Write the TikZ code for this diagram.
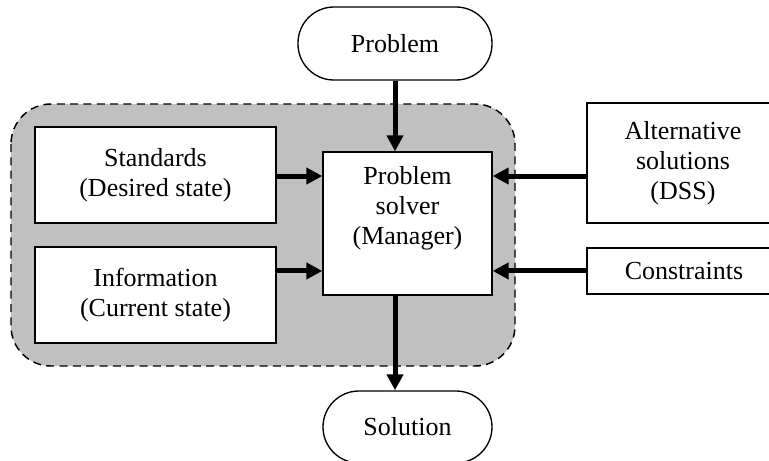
\documentclass[tikz,border=0pt]{standalone}
\usepackage{fontspec}
\setmainfont{Liberation Serif}
\usepackage{tikz}
\usetikzlibrary{arrows.meta}
\definecolor{shade}{RGB}{192,192,192}

\begin{document}
\begin{tikzpicture}[x=0.75pt,y=-0.75pt,
    every node/.style={font=\fontsize{19.5}{22.5}\selectfont},
    box/.style={draw,line width=1pt,fill=white,align=center,inner sep=0pt},
    term/.style={box,rounded corners=27pt},
    flow/.style={line width=3.75pt,-{Triangle[length=12pt,width=12pt]}}]
    \useasboundingbox (0,0) rectangle (769,461);
    \clip (0,0) rectangle (769,461);
    % manager's area
    \filldraw[fill=shade,line width=1.1pt,dash pattern=on 6pt off 4pt,rounded corners=30pt] (11,104) rectangle (515,366);
    \node[term,minimum width=145.5pt,minimum height=54.75pt] (problem) at (395,43.5) {Problem};
    \node[term,minimum width=126.75pt,minimum height=54pt] (solution) at (407.5,427) {Solution};
    \node[box,minimum width=180.75pt,minimum height=72pt] (std) at (155.5,175) {Standards\\(Desired state)};
    \node[box,minimum width=180.75pt,minimum height=72pt] (info) at (155.5,295) {Information\\(Current state)};
    \node[box,minimum width=126.75pt,minimum height=107.25pt,
      label={[inner sep=0pt,align=center,anchor=north,yshift=-11.5pt]north:Problem\\solver\\(Manager)}] (solver) at (407.5,223.5) {};
    \node[box,minimum width=144pt,minimum height=90pt] (alt) at (683,163) {Alternative\\solutions\\(DSS)};
    \node[box,minimum width=145.5pt,minimum height=34.5pt] (cons) at (684,271) {Constraints};
    % inputs and output
    \coordinate (inA) at ([yshift=35.6pt]solver.west);
    \coordinate (inB) at ([yshift=-35.6pt]solver.west);
    \coordinate (outA) at ([yshift=35.6pt]solver.east);
    \coordinate (outB) at ([yshift=-35.6pt]solver.east);
    \draw[flow] (problem.south) -- (problem.south |- solver.north);
    \draw[flow] (std.east |- inA) -- (inA);
    \draw[flow] (info.east |- inB) -- (inB);
    \draw[flow] (alt.west |- outA) -- (outA);
    \draw[flow] (cons.west |- outB) -- (outB);
    \draw[flow] (problem.south |- solver.south) -- (problem.south |- solution.north);
\end{tikzpicture}
\end{document}
